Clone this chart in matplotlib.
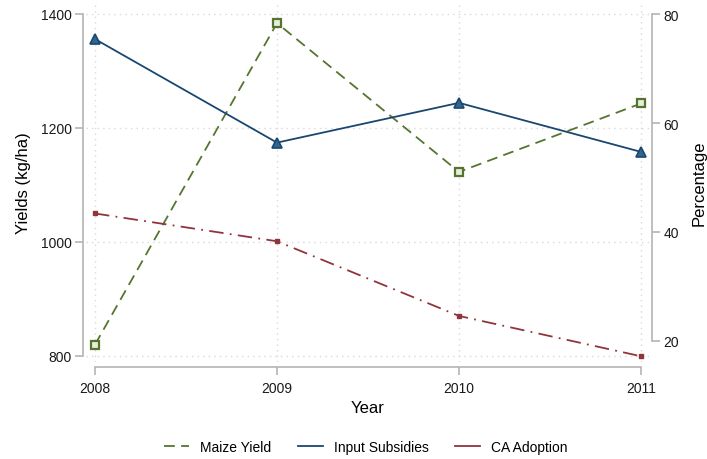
import matplotlib
matplotlib.use("Agg")
import matplotlib.pyplot as plt

# Yearly series
years = [2008, 2009, 2010, 2011]
maize_yield = [820, 1384, 1123, 1243]        # kg/ha
input_subsidies = [75.4, 56.4, 63.7, 54.7]   # percentage
ca_adoption = [43.4, 38.3, 24.6, 17.2]       # percentage

yield_ticks = [800, 1000, 1200, 1400]
pct_ticks = [20, 40, 60, 80]

green = "#55752f"
navy = "#1a476f"
maroon = "#90353b"
axis_grey = "#b4b4b4"
grid_grey = "#d9d9d9"

plt.rcParams["font.family"] = ["Liberation Sans", "DejaVu Sans"]

fig = plt.figure(figsize=(7.07, 4.60), dpi=100)
ax1 = fig.add_axes([86 / 707, 97 / 460, 563 / 707, 360 / 460])
ax2 = ax1.twinx()

# left axis: yields
l1, = ax1.plot(years, maize_yield, color=green, lw=1.3, dashes=(6, 3.5),
               marker="s", markersize=6, markerfacecolor="#e8eedf",
               markeredgecolor=green, markeredgewidth=1.6, label="Maize Yield", zorder=3)

# right axis: percentages
l2, = ax2.plot(years, input_subsidies, color=navy, lw=1.3, marker="^",
               markersize=7, markerfacecolor="#35648f", markeredgecolor=navy,
               markeredgewidth=1.2, label="Input Subsidies", zorder=3)
l3, = ax2.plot(years, ca_adoption, color=maroon, lw=1.3, dashes=(8, 3.5, 1, 3.5),
               marker="s", markersize=3, markerfacecolor=maroon,
               markeredgecolor=maroon, label="CA Adoption", zorder=3)

ax1.set_xlim(2008 - 9 / 182, 2011 + 8 / 182)
ax1.set_ylim(800 - 6 / 0.57, 1400 + 12 / 0.57)
ax2.set_ylim(20 - 21 / 5.45, 80 + 12 / 5.45)

ax1.set_xticks(years)
ax1.set_yticks(yield_ticks)
ax2.set_yticks(pct_ticks)

# dotted grid at the year and yield ticks
for y in yield_ticks:
    ax1.axhline(y, color=grid_grey, lw=1, ls=(0, (1, 3)), zorder=0)
for x in years:
    ax1.axvline(x, color=grid_grey, lw=1, ls=(0, (1, 3)), zorder=0)

for ax in (ax1, ax2):
    ax.spines["top"].set_visible(False)
    for side in ("left", "right", "bottom"):
        ax.spines[side].set_color(axis_grey)
        ax.spines[side].set_linewidth(1.2)
    ax.tick_params(colors=axis_grey, labelcolor="#1a1a1a", labelsize=10,
                   length=6, width=1.2)

ax1.spines["right"].set_visible(False)
ax2.spines["left"].set_visible(False)
ax2.spines["bottom"].set_visible(False)

ax1.spines["left"].set_position(("outward", 2.2))
ax1.spines["left"].set_bounds(800, 1400)
ax1.spines["bottom"].set_position(("outward", 3.6))
ax1.spines["bottom"].set_bounds(2008, 2011)
ax2.spines["right"].set_position(("outward", 2.2))
ax2.spines["right"].set_bounds(20, 80)

ax1.tick_params(axis="y", pad=2)
ax1.tick_params(axis="x", pad=4)
ax2.tick_params(axis="y", pad=2)

ax1.set_xlabel("Year", fontsize=12, labelpad=4)
ax1.set_ylabel("Yields (kg/ha)", fontsize=12, labelpad=7)
ax2.set_ylabel("Percentage", fontsize=12, labelpad=9)

fig.legend([l1, l2, l3], ["Maize Yield", "Input Subsidies", "CA Adoption"],
           loc="center", bbox_to_anchor=(366 / 707, 1 - 448 / 460), ncol=3,
           frameon=False, fontsize=10, handlelength=1.8, handletextpad=0.8,
           columnspacing=1.9)
# legend keys show plain line segments, no markers
for h in fig.legends[0].legend_handles:
    h.set_marker("")
fig.legends[0].legend_handles[2].set_linestyle("-")

fig.savefig("out.png", dpi=100)
